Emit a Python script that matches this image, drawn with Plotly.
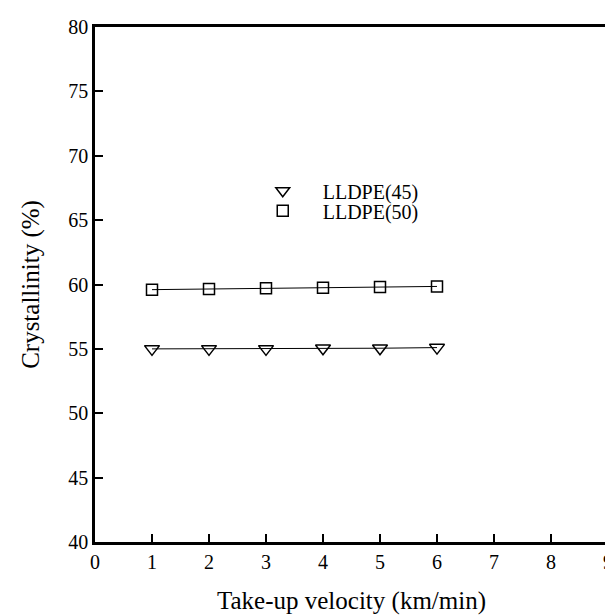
import plotly.graph_objects as go

velocity = [1, 2, 3, 4, 5, 6]
lldpe45 = [55.0, 55.0, 55.0, 55.05, 55.05, 55.1]
lldpe50 = [59.6, 59.65, 59.7, 59.75, 59.8, 59.85]
series_names = ["LLDPE(45)", "LLDPE(50)"]
x_ticks = [0, 1, 2, 3, 4, 5, 6, 7, 8, 9]
y_ticks = [40, 45, 50, 55, 60, 65, 70, 75, 80]

FONT = "Liberation Serif, Times New Roman, serif"

fig = go.Figure()
fig.add_trace(go.Scatter(x=velocity, y=lldpe45, mode="lines+markers", showlegend=False,
                         line=dict(color="black", width=1),
                         marker=dict(symbol="triangle-down-open", size=13, color="black", line=dict(width=1.5))))
fig.add_trace(go.Scatter(x=velocity, y=lldpe50, mode="lines+markers", showlegend=False,
                         line=dict(color="black", width=1),
                         marker=dict(symbol="square-open", size=11, color="black", line=dict(width=1.5))))
# legend entries (markers only), one legend box each
fig.add_trace(go.Scatter(x=[None], y=[None], mode="markers", name=series_names[0], legend="legend",
                         marker=dict(symbol="triangle-down-open", size=12, color="black", line=dict(width=1.5))))
fig.add_trace(go.Scatter(x=[None], y=[None], mode="markers", name=series_names[1], legend="legend2",
                         marker=dict(symbol="square-open", size=11, color="black", line=dict(width=1.5))))

axis_common = dict(showgrid=False, zeroline=False, showline=True, linecolor="black", linewidth=2.5,
                   mirror=True, ticks="inside", ticklen=8, tickwidth=1.5, tickcolor="black",
                   tickfont=dict(family=FONT, size=20, color="black"))

fig.update_xaxes(range=[0, 9], tickvals=x_ticks,
                 title=dict(text="Take-up velocity (km/min)", font=dict(family=FONT, size=25, color="black"), standoff=20),
                 **axis_common)
fig.update_yaxes(range=[40, 80], tickvals=y_ticks,
                 title=dict(text="Crystallinity (%)", font=dict(family=FONT, size=25, color="black"), standoff=22),
                 **axis_common)

leg_common = dict(xanchor="left", yanchor="middle", bgcolor="rgba(0,0,0,0)", itemwidth=70,
                  font=dict(family=FONT, size=20, color="black"))
fig.update_layout(
    width=613, height=615,
    margin=dict(l=87, r=8, t=19, b=81),
    plot_bgcolor="white", paper_bgcolor="white",
    legend=dict(x=0.288, y=0.682, **leg_common),
    legend2=dict(x=0.288, y=0.643, **leg_common),
)

fig.write_html("out.html")
